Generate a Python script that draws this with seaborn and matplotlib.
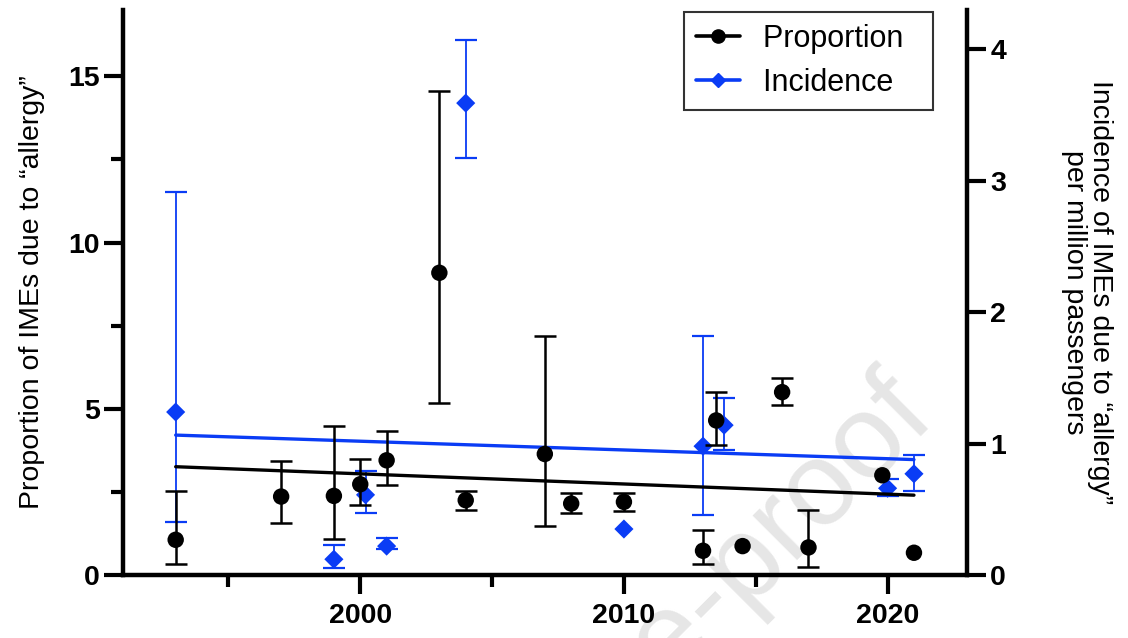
import numpy as np
import pandas as pd
import matplotlib
matplotlib.use("Agg")
import matplotlib.pyplot as plt
from matplotlib.lines import Line2D
from matplotlib.ticker import MultipleLocator
import seaborn as sns

# values
prop_year = [1993, 1997, 1999, 2000, 2001, 2003, 2004, 2007, 2008, 2010,
             2013, 2013.5, 2014.5, 2016, 2017, 2019.8, 2021]
prop_val = [1.06, 2.36, 2.38, 2.73, 3.45, 9.09, 2.25, 3.64, 2.15, 2.20,
            0.73, 4.65, 0.87, 5.50, 0.83, 3.00, 0.67]
prop_low = [0.32, 1.55, 1.07, 2.10, 2.71, 5.16, 1.97, 1.46, 1.88, 1.94,
            0.33, 3.91, np.nan, 5.10, 0.25, np.nan, np.nan]
prop_high = [2.52, 3.42, 4.49, 3.48, 4.34, 14.56, 2.53, 7.20, 2.46, 2.46,
             1.36, 5.51, np.nan, 5.93, 1.97, np.nan, np.nan]

inc_year = [1993, 1999, 2000.2, 2001, 2004, 2010, 2013, 2013.8, 2020, 2021]
inc_val = [1.24, 0.12, 0.61, 0.22, 3.59, 0.35, 0.98, 1.14, 0.66, 0.77]
inc_low = [0.40, 0.05, 0.47, 0.20, 3.17, np.nan, 0.46, 0.95, 0.60, 0.64]
inc_high = [2.91, 0.23, 0.79, 0.28, 4.07, np.nan, 1.82, 1.35, 0.73, 0.91]

prop = pd.DataFrame({"year": prop_year, "val": prop_val, "low": prop_low, "high": prop_high})
inc = pd.DataFrame({"year": inc_year, "val": inc_val, "low": inc_low, "high": inc_high})

BLUE = "#0a3cf5"

sns.set_theme(style="ticks")
plt.rcParams["font.family"] = ["Liberation Sans", "DejaVu Sans"]
plt.rcParams.update({"text.color": "black", "axes.labelcolor": "black",
                     "axes.edgecolor": "black", "xtick.color": "black",
                     "ytick.color": "black"})

fig = plt.figure(figsize=(11.28, 6.38), dpi=100, facecolor="white")
ax = fig.add_axes([0.109, 0.0987, 0.748, 0.886])
ax2 = ax.twinx()

# watermark behind everything
fig.text(0.831, 0.342, "Journal Pre-proof", rotation=45, rotation_mode="anchor",
         ha="right", va="baseline", fontsize=86, color="#e6e6e6", zorder=-5)

# incidence (right axis)
m = inc["low"].notna()
ax2.errorbar(inc["year"][m], inc["val"][m],
             yerr=[inc["val"][m] - inc["low"][m], inc["high"][m] - inc["val"][m]],
             fmt="none", ecolor=BLUE, elinewidth=1.3, capsize=8, capthick=1.6)
sns.scatterplot(data=inc, x="year", y="val", ax=ax2, marker="D", s=95,
                color=BLUE, edgecolor="none", zorder=3)
sns.regplot(data=inc, x="year", y="val", ax=ax2, scatter=False, ci=None,
            line_kws={"color": BLUE, "lw": 2.4})

# proportion (left axis)
m = prop["low"].notna()
ax.errorbar(prop["year"][m], prop["val"][m],
            yerr=[prop["val"][m] - prop["low"][m], prop["high"][m] - prop["val"][m]],
            fmt="none", ecolor="black", elinewidth=1.8, capsize=8, capthick=1.8)
sns.scatterplot(data=prop, x="year", y="val", ax=ax, marker="o", s=140,
                color="black", edgecolor="none", zorder=3)
sns.regplot(data=prop, x="year", y="val", ax=ax, scatter=False, ci=None,
            line_kws={"color": "black", "lw": 2.4})

ax.set_zorder(ax2.get_zorder() + 1)
ax.patch.set_visible(False)
ax2.patch.set_visible(False)

ax.set_xlim(1991, 2023)
ax.set_ylim(0, 17)
ax2.set_ylim(0, 4.3)

ax.xaxis.set_major_locator(MultipleLocator(10))
ax.xaxis.set_minor_locator(MultipleLocator(5))
ax.yaxis.set_major_locator(MultipleLocator(5))
ax.yaxis.set_minor_locator(MultipleLocator(2.5))
ax2.yaxis.set_major_locator(MultipleLocator(1))

for a in (ax, ax2):
    a.spines["top"].set_visible(False)
    for s in a.spines.values():
        s.set_linewidth(3.2)
        s.set_color("black")
ax.spines["right"].set_visible(False)
ax2.spines["left"].set_visible(False)
ax2.spines["bottom"].set_visible(False)

ax.tick_params(axis="both", which="major", length=13.5, width=3, labelsize=20.5, pad=3)
ax.tick_params(axis="both", which="minor", length=8.5, width=3)
ax.tick_params(axis="x", which="major", pad=6.5)
ax2.tick_params(axis="y", which="major", length=13.5, width=3, labelsize=20.5, pad=3.5)
for lab in ax.get_xticklabels() + ax.get_yticklabels() + ax2.get_yticklabels():
    lab.set_fontweight("bold")

ax.set_xlabel("")
ax.set_ylabel("Proportion of IMEs due to “allergy”", fontsize=20.5, labelpad=17)
ax2.set_ylabel("Incidence of IMEs due to “allergy”\nper million passengers",
               fontsize=20.5, rotation=270, labelpad=77, linespacing=1.0)

handles = [Line2D([], [], color="black", marker="o", markersize=9.5, lw=2.6),
           Line2D([], [], color=BLUE, marker="D", markersize=7.5, lw=2.6)]
leg = ax.legend(handles, ["Proportion  ", "Incidence  "], loc="upper right",
                bbox_to_anchor=(0.96, 0.9965), borderaxespad=0, fontsize=22,
                frameon=True, fancybox=False, handlelength=1.45, handletextpad=0.75,
                labelspacing=0.45, borderpad=0.4)
leg.get_frame().set_edgecolor("black")
leg.get_frame().set_linewidth(1.5)

fig.savefig("out.png", dpi=100, facecolor="white")
